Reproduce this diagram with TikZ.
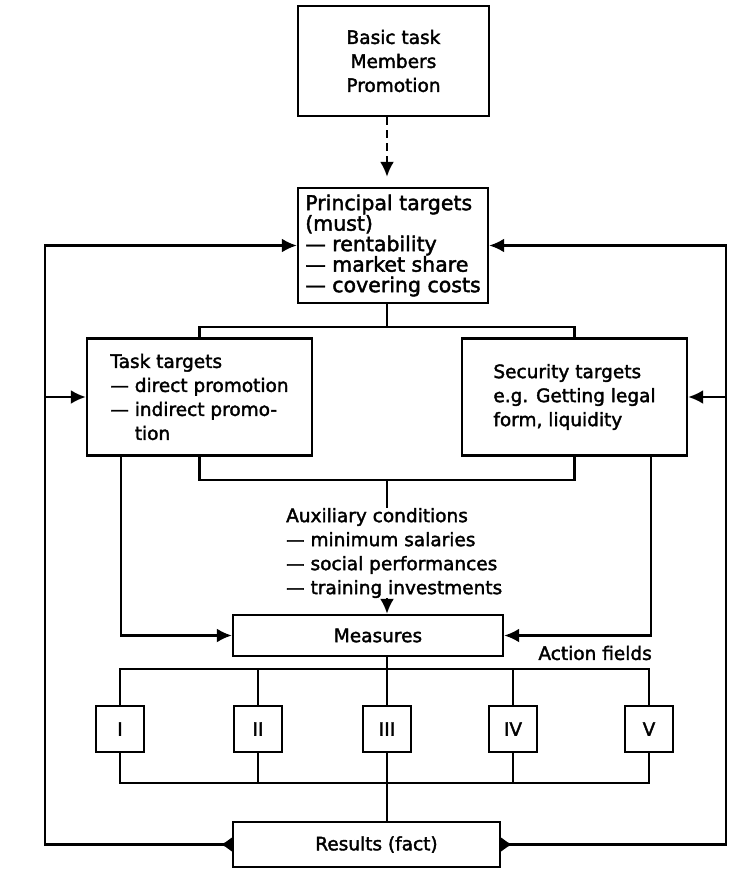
\documentclass[tikz,border=0pt]{standalone}
\usepackage{fontspec}
\setmainfont{DejaVu Sans}[FakeBold=2]
\usetikzlibrary{arrows.meta}
\begin{document}
\begin{tikzpicture}[x=1pt, y=-1pt, font={\fontsize{18.5}{24}\selectfont}]
      \tikzstyle{box}=[draw, line width=2.4pt, inner sep=0pt]
      \tikzstyle{fieldbox}=[box, minimum width=48pt, minimum height=46pt]
      \tikzstyle{link}=[line width=2.4pt]
      \tikzstyle{feed}=[link, -{Latex[length=15pt,width=14pt]}]
      \tikzstyle{backfeed}=[link, {Latex[length=11pt,width=15pt,reversed]}-{Latex[length=15pt,width=14pt]}]
      \useasboundingbox (0,0) rectangle (751,878);
      \coordinate (spine) at (387,0);
      \coordinate (leftrail) at (45,0);
      \coordinate (rightrail) at (726,0);
      \coordinate (taskdrop) at (121,0);
      \coordinate (secdrop) at (651,0);
      \coordinate (targetbus) at (0,327);
      \coordinate (condbus) at (0,480);
      \coordinate (fieldtop) at (0,669);
      \coordinate (fieldbot) at (0,783);
      \node[box, minimum width=191pt, minimum height=110pt, align=center] (basic) at (393.5,61) {Basic task\\Members\\Promotion};
      \node[box, minimum width=190pt, minimum height=115pt, align=left, font={\fontsize{20.5}{20.5}\selectfont}] (principal) at (393,245.5) {Principal targets\\(must)\\— rentability\\— market share\\— covering costs};
      \node[box, minimum width=225pt, minimum height=117pt, align=left] (task) at (199.5,397) {Task targets\\— direct promotion\\— indirect promo-\\\hphantom{— }tion};
      \node[box, minimum width=225pt, minimum height=117pt, align=left] (security) at (574.5,397) {Security targets\\e.g. Getting legal\\form, liquidity};
      \node[anchor=west, align=left, inner sep=0pt] (aux) at (286,553) {Auxiliary conditions\\— minimum salaries\\— social performances\\— training investments};
      \node[box, minimum width=270pt, minimum height=41pt] (measures) at (368,635.5) {\hspace*{20pt}Measures};
      \node[anchor=east, inner sep=0pt] (actlabel) at (652,653) {Action fields};
      \foreach \name/\x/\lab in {f1/120/I, f2/258/II, f3/387/III, f4/513/IV, f5/649/V}
        \node[fieldbox] (\name) at (\x,729) {\lab};
      \node[box, minimum width=267pt, minimum height=45pt] (results) at (366.5,844.5) {\hspace*{20pt}Results (fact)};

      \draw[link, dash pattern=on 8pt off 5pt, -{Latex[length=15pt,width=14pt]}, shorten >=10pt] (basic.south -| spine) -- (principal.north -| spine);
      \draw[link] (principal.south -| spine) -- (spine |- targetbus);
      \draw[link] (task.north) -- (task.north |- targetbus) -- (security.north |- targetbus) -- (security.north);
      \draw[link] (task.south) -- (task.south |- condbus) -- (security.south |- condbus) -- (security.south);
      \draw[link] (spine |- condbus) -- (aux.north -| spine);
      \draw[feed] (aux.south -| spine) -- (measures.north -| spine);
      \draw[feed] (task.south -| taskdrop) |- (measures.west);
      \draw[feed] (security.south -| secdrop) |- (measures.east);
      \draw[link] (measures.south -| spine) -- (spine |- fieldtop);
      \draw[link] (f1.north) -- (f1.north |- fieldtop) -- (f5.north |- fieldtop) -- (f5.north);
      \draw[link] (f1.south) -- (f1.south |- fieldbot) -- (f5.south |- fieldbot) -- (f5.south);
      \foreach \f in {f2, f3, f4} {
        \draw[link] (\f.north) -- (\f.north |- fieldtop);
        \draw[link] (\f.south) -- (\f.south |- fieldbot);
      }
      \draw[link] (spine |- fieldbot) -- (results.north -| spine);
      \draw[backfeed] (results.west) -| (leftrail |- principal.west) -- (principal.west);
      \draw[backfeed] (results.east) -| (rightrail |- principal.east) -- (principal.east);
      \draw[feed] (leftrail |- task.west) -- (task.west);
      \draw[feed] (rightrail |- security.east) -- (security.east);
\end{tikzpicture}
\end{document}
